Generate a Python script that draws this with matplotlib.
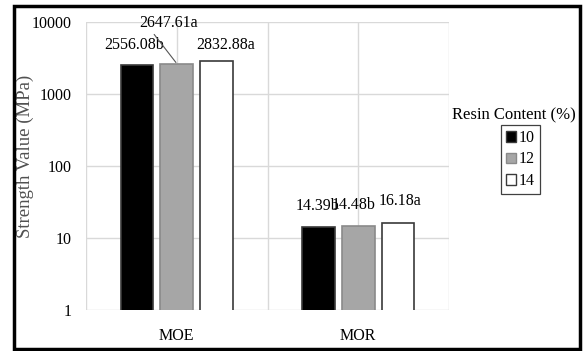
import numpy as np
import matplotlib.pyplot as plt
from matplotlib.patches import Patch, Rectangle

plt.rcParams["font.family"] = ["Liberation Serif", "DejaVu Serif"]
plt.rcParams["font.size"] = 11.5

categories = ["MOE", "MOR"]
resin_levels = ["10", "12", "14"]
values = {
    "10": [2556.08, 14.39],
    "12": [2647.61, 14.48],
    "14": [2832.88, 16.18],
}
letters = {
    "10": ["b", "b"],
    "12": ["a", "b"],
    "14": ["a", "a"],
}
y_ticks = [1, 10, 100, 1000, 10000]

face = {"10": "black", "12": "#a6a6a6", "14": "white"}
edge = {"10": "#3a3a3a", "12": "#8a8a8a", "14": "#3a3a3a"}
# label offsets (pixels) from the top centre of each bar
offsets = {
    "10": [(-3, 20), (-1, 21)],
    "12": [(-8, 41), (-5, 21)],
    "14": [(9, 16), (2, 22)],
}

fig = plt.figure(figsize=(5.84, 3.51), dpi=100)
ax = fig.add_axes([0.1473, 0.1168, 0.6215, 0.8205])

x = np.arange(len(categories))
width = 0.18
step = 0.22

for i, lvl in enumerate(resin_levels):
    xs = x + (i - 1) * step
    ax.bar(xs, values[lvl], width, bottom=0, color=face[lvl],
           edgecolor=edge[lvl], linewidth=1.2, label=lvl, zorder=3)
    for j, v in enumerate(values[lvl]):
        dx, dy = offsets[lvl][j]
        text = f"{v:.2f}{letters[lvl][j]}"
        if lvl == "12" and j == 0:
            ax.annotate(text, xy=(xs[j], v), xytext=(dx, dy),
                        textcoords="offset pixels", ha="center", va="center",
                        arrowprops=dict(arrowstyle="-", color="#555555",
                                        lw=0.8, shrinkA=1, shrinkB=1,
                                        relpos=(0.2, 0)),
                        zorder=4)
        else:
            ax.annotate(text, xy=(xs[j], v), xytext=(dx, dy),
                        textcoords="offset pixels", ha="center", va="center",
                        zorder=4)

ax.set_yscale("log")
ax.set_ylim(1, 10000)
ax.set_xlim(-0.5, 1.5)
ax.set_yticks(y_ticks)
ax.set_yticklabels([str(t) for t in y_ticks])
ax.yaxis.set_minor_locator(plt.NullLocator())
ax.set_xticks(x)
ax.set_xticklabels(categories)
ax.tick_params(length=0)
ax.tick_params(axis="x", pad=13)
ax.tick_params(axis="y", pad=10)

for xv in [-0.5, 0, 0.5, 1, 1.5]:
    ax.axvline(xv, color="#d9d9d9", lw=1, zorder=1)
for yv in y_ticks:
    ax.axhline(yv, color="#d9d9d9", lw=1, zorder=1)
for s in ax.spines.values():
    s.set_visible(False)

ax.set_ylabel("Strength Value (MPa)", color="#505050", fontsize=13.5)
ax.yaxis.set_label_coords(-0.143, 0.535)

fig.text(0.880, 0.672, "Resin Content (%)", ha="center", va="center", fontsize=12)
handles = [Patch(facecolor=face[l], edgecolor=edge[l], label=l) for l in resin_levels]
leg = fig.legend(handles=handles, loc="center", bbox_to_anchor=(0.891, 0.5456),
                 bbox_transform=fig.transFigure, handlelength=0.65, handleheight=0.65,
                 handletextpad=0.2, borderpad=0.3, labelspacing=0.35,
                 fancybox=False, edgecolor="#404040", framealpha=1)
leg.get_frame().set_linewidth(0.9)

# outer black frame
fig.patches.append(Rectangle((14 / 584, 2 / 351), 566 / 584, 343.5 / 351,
                             transform=fig.transFigure, fill=False,
                             edgecolor="black", lw=2.5))

fig.savefig("out.png", dpi=100)
